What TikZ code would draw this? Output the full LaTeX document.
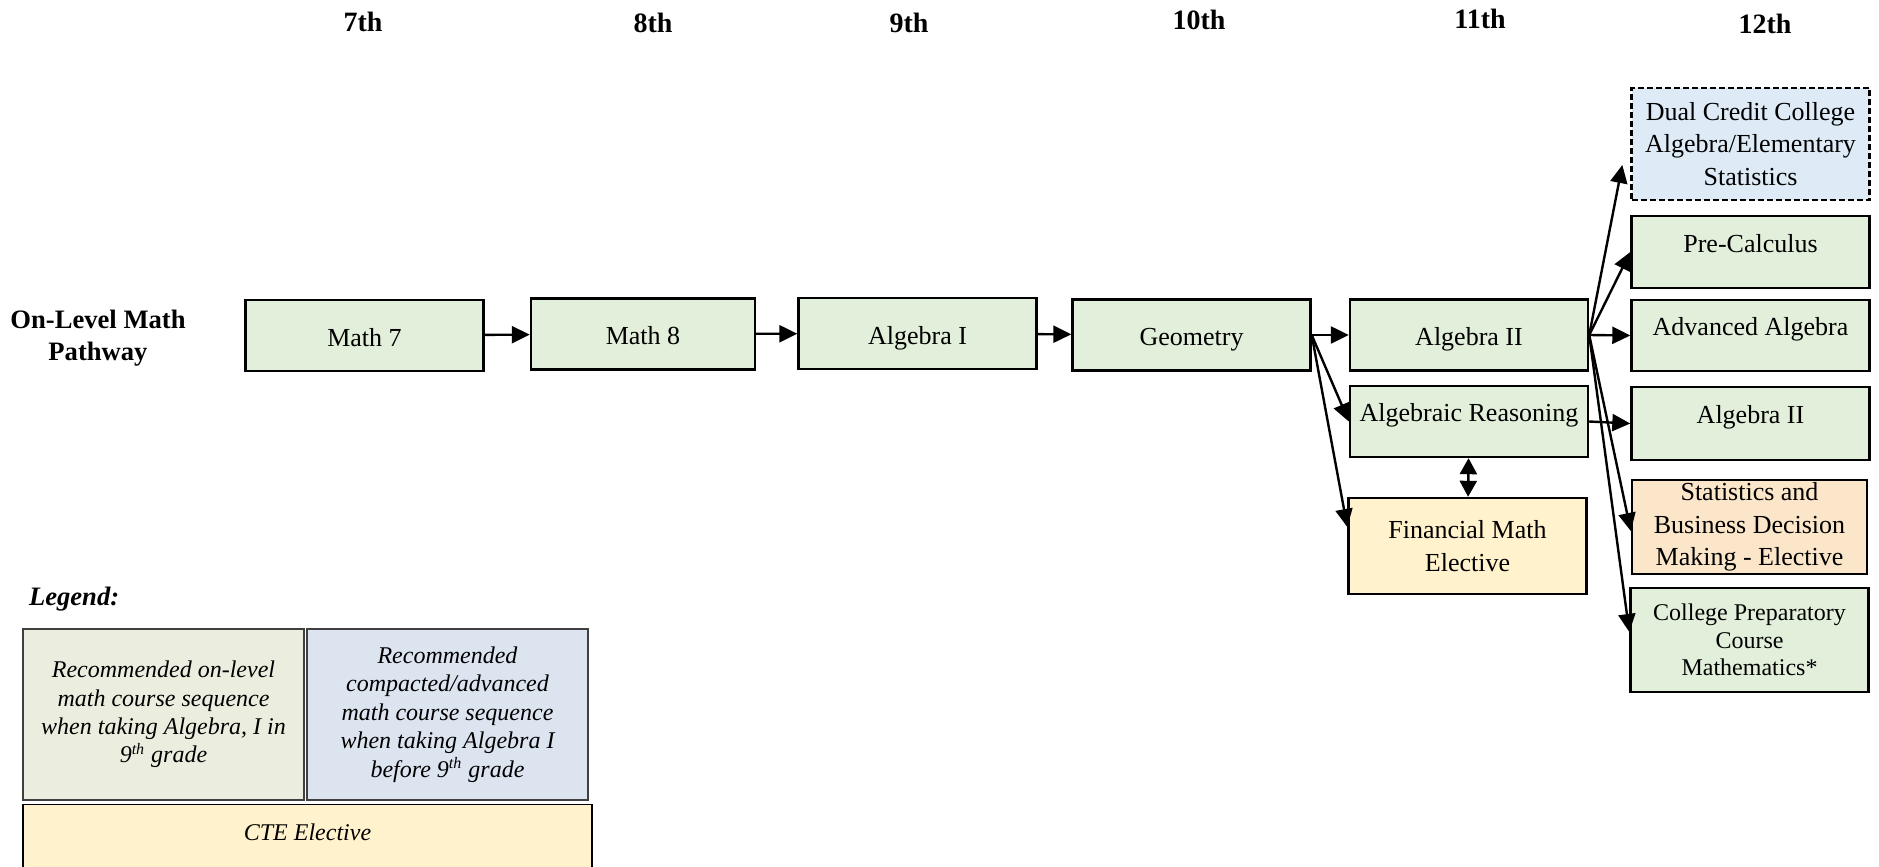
\documentclass[tikz,border=0pt]{standalone}
\usepackage{fontspec}
\setmainfont{Liberation Serif}
\usepackage{tikz}
\usetikzlibrary{positioning}
\usetikzlibrary{arrows.meta}

\definecolor{coursegreen}{HTML}{E2EFDA}
\definecolor{legendgreen}{HTML}{EBEEDF}
\definecolor{dualblue}{HTML}{DEEBF7}
\definecolor{legendblue}{HTML}{DCE4F0}
\definecolor{electiveyellow}{HTML}{FFF2CC}
\definecolor{statsorange}{HTML}{FCE6C9}

\begin{document}
\begin{tikzpicture}[x=0.5pt, y=-0.5pt,
    course/.style={draw, rectangle, line width=1.2pt, fill=coursegreen, minimum width=119pt, minimum height=35.5pt, align=center, inner sep=0pt, font=\fontsize{13}{16.2}\selectfont},
    oneline/.style={text height=12pt, text depth=1.5pt},
    raised/.style={text height=8.7pt, text depth=8.7pt},
    gradelabel/.style={font=\fontsize{14}{16}\selectfont\bfseries},
    legendbox/.style={draw=black!75, line width=0.7pt, rectangle, align=center, inner sep=0pt, font=\fontsize{12}{14.2}\selectfont\itshape},
    arr/.style={-{Triangle[length=9pt,width=8.5pt]}, line width=1.2pt},
    arrboth/.style={{Triangle[length=8pt,width=8.5pt]}-{Triangle[length=8pt,width=8.5pt]}, line width=1.2pt}]
    \useasboundingbox (0,0) rectangle (1879,867);

    % Grados
    \node (g7) at (363,22) [gradelabel] {7th};
    \node (g8) at (653,23) [gradelabel] {8th};
    \node (g9) at (909,23) [gradelabel] {9th};
    \node (g10) at (1199,20) [gradelabel] {10th};
    \node (g11) at (1480,19) [gradelabel] {11th};
    \node (g12) at (1765,24) [gradelabel] {12th};

    \node (pathway) at (98,338) [align=center, font=\fontsize{13.3}{16}\selectfont\bfseries] {On-Level Math\\Pathway};

    % Secuencia principal
    \node (math7) at (364.5,335.5) [course, oneline] {Math 7};
    \node (math8) at (643,334) [course, oneline, minimum width=112pt] {Math 8};
    \node (alg1) at (917.5,333.5) [course, oneline] {Algebra I};
    \node (geometry) at (1191.5,335) [course, oneline] {Geometry};

    % 11th
    \node (algtwo) at (1469,335) [course, oneline] {Algebra II};
    \node (algreason) at (1469,421.5) [course, raised] {Algebraic Reasoning};
    \node (financial) at (1467.5,546) [course, fill=electiveyellow, minimum height=48pt] {Financial Math\\Elective};

    % 12th
    \node (dual) at (1750.5,144) [course, fill=dualblue, dash pattern=on 3pt off 1.5pt, minimum height=56pt] {Dual Credit College\\Algebra/Elementary\\Statistics};
    \node (precalc) at (1750.5,252) [course, raised, minimum height=36pt] {Pre-Calculus};
    \node (advalg) at (1750.5,335.5) [course, raised] {Advanced Algebra};
    \node (algtwob) at (1750.5,423.5) [course, raised, minimum height=36.5pt] {Algebra II};
    \node (stats) at (1749.5,527) [course, fill=statsorange, minimum width=117.5pt, minimum height=47pt] {Statistics and\\Business Decision\\Making - Elective};
    \node (college) at (1749.5,640) [course, minimum height=52pt, font=\fontsize{12}{13.8}\selectfont] {College Preparatory\\Course\\Mathematics*};

    % Flechas
    \draw[arr] (math7) -- (math8);
    \draw[arr] (math8) -- (alg1);
    \draw[arr] (alg1) -- (geometry);
    \draw[arr] (geometry.east) -- (algtwo);
    \draw[arr] (geometry.east) -- (algreason.west);
    \draw[arr] (geometry.east) -- ([yshift=9.5pt]financial.west);
    \draw[arrboth] (algreason) -- (financial);
    \draw[arr] (algtwo.east) -- ([xshift=-4pt,yshift=-10.5pt]dual.west);
    \draw[arr] (algtwo.east) -- (precalc.west);
    \draw[arr] (algtwo.east) -- (advalg.west);
    \draw[arr] (algreason.east) -- (algtwob.west);
    \draw[arr] (algtwo.east) -- ([yshift=-2pt]stats.west);
    \draw[arr] (algtwo.east) -- ([yshift=4pt]college.west);

    % Leyenda
    \node (legend) at (22,599) [anchor=west, font=\fontsize{13.3}{16}\selectfont\bfseries\itshape] {Legend:};
    \node (onlevel) at (163.5,714.5) [legendbox, fill=legendgreen, minimum width=140.5pt, minimum height=85.5pt] {Recommended on-level\\math course sequence\\when taking Algebra, I in\\9\textsuperscript{th} grade};
    \node (compacted) at (447.5,714.5) [legendbox, fill=legendblue, minimum width=140.5pt, minimum height=85.5pt] {Recommended\\compacted/advanced\\math course sequence\\when taking Algebra I\\before 9\textsuperscript{th} grade};
    \node (cte) at (307.5,804) [legendbox, anchor=north, fill=electiveyellow, draw=black, minimum width=284.5pt, inner ysep=10pt, text height=8pt, text depth=22pt] {CTE Elective};
\end{tikzpicture}
\end{document}
